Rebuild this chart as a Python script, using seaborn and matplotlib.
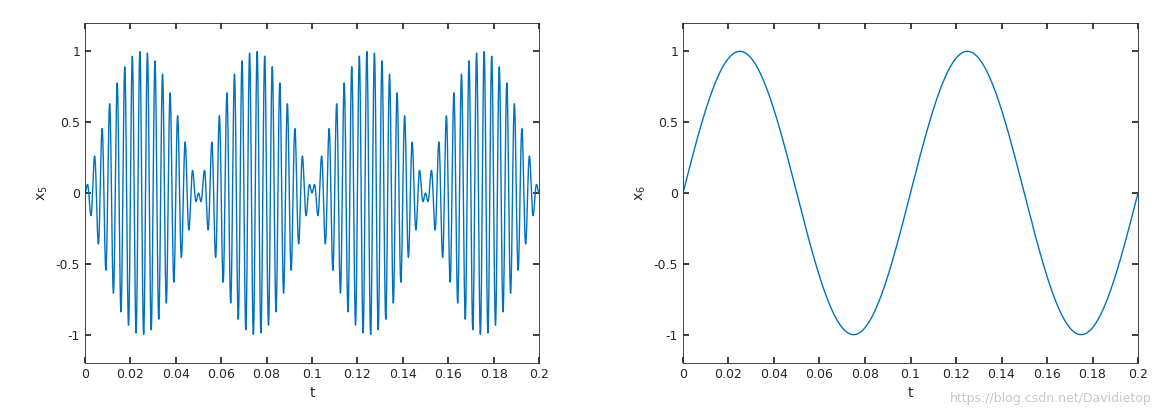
import matplotlib
matplotlib.use("Agg")
import matplotlib.pyplot as plt
import seaborn as sns
import numpy as np
import pandas as pd

sns.set_theme(style="white")
plt.rcParams["font.family"] = ["DejaVu Sans"]

# signal parameters
T_END = 0.2
FS = 20000
ENV_FREQ = 10      # envelope / x6 frequency, Hz
CARRIER_FREQ = 300  # carrier frequency of x5, Hz
X_TICKS = [0, 0.02, 0.04, 0.06, 0.08, 0.1, 0.12, 0.14, 0.16, 0.18, 0.2]
X_TICK_LABELS = ["0", "0.02", "0.04", "0.06", "0.08", "0.1", "0.12", "0.14", "0.16", "0.18", "0.2"]
Y_TICKS = [-1, -0.5, 0, 0.5, 1]
Y_TICK_LABELS = ["-1", "-0.5", "0", "0.5", "1"]

t = np.arange(0, T_END + 1 / FS, 1 / FS)
x6 = np.sin(2 * np.pi * ENV_FREQ * t)
x5 = x6 * np.sin(2 * np.pi * CARRIER_FREQ * t)
df = pd.DataFrame({"t": t, "x5": x5, "x6": x6})

LINE = "#0072BD"
fig = plt.figure(figsize=(11.57, 4.09), dpi=100)
ax1 = fig.add_axes([85 / 1157, 1 - 363 / 409, 454 / 1157, 340 / 409])
ax2 = fig.add_axes([683 / 1157, 1 - 363 / 409, 455 / 1157, 340 / 409])

for ax, col, lab in [(ax1, "x5", "x$_5$"), (ax2, "x6", "x$_6$")]:
    sns.lineplot(data=df, x="t", y=col, ax=ax, color=LINE, linewidth=1.0)
    ax.set_xlim(0, T_END)
    ax.set_ylim(-1.2, 1.2)
    ax.set_xticks(X_TICKS, X_TICK_LABELS)
    ax.set_yticks(Y_TICKS, Y_TICK_LABELS)
    ax.tick_params(direction="in", length=4, labelsize=9, colors="#262626",
                   top=True, right=True, bottom=True, left=True)
    for s in ax.spines.values():
        s.set_color("#262626")
        s.set_linewidth(0.6)
    ax.set_xlabel("t", fontsize=10, color="#262626")
    ax.set_ylabel(lab, fontsize=10, color="#262626")

fig.text(0.995, 0.01, "https://blog.csdn.net/Davidietop", ha="right", va="bottom",
         fontsize=9, color="#c8c8c8")
fig.savefig("out.png", dpi=100)
